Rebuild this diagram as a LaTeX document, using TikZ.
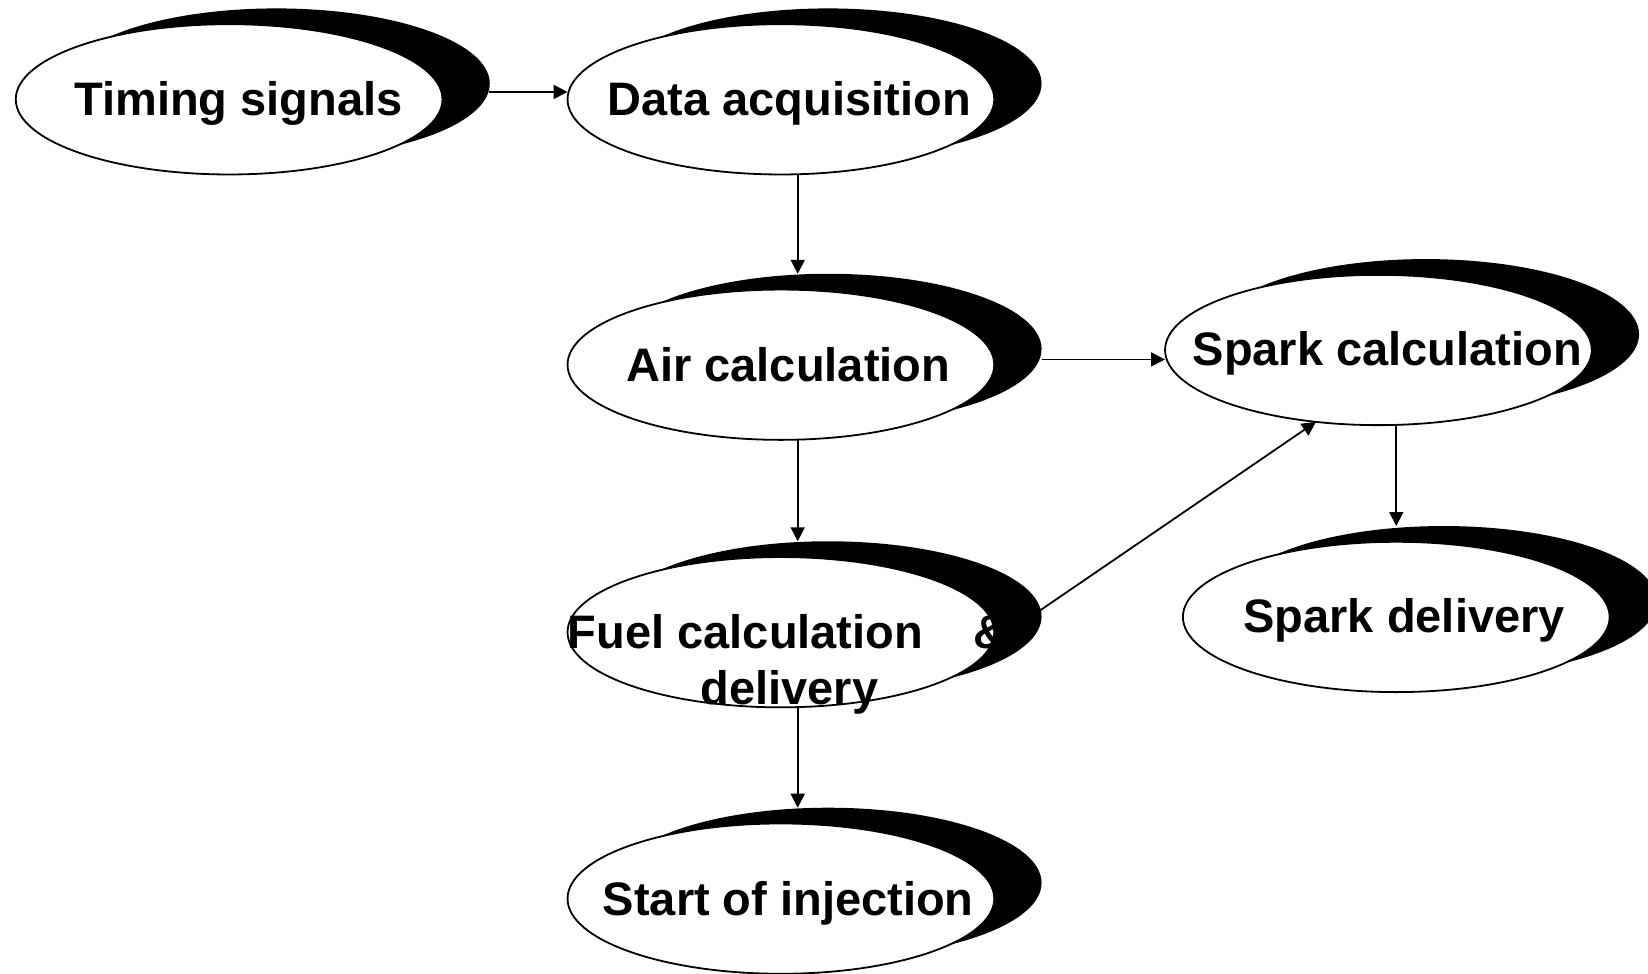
\documentclass[tikz,border=0pt]{standalone}
\usepackage{fontspec}
\setmainfont{Liberation Sans}
\usetikzlibrary{shapes.geometric,arrows.meta,calc}
\newlength\uu
\setlength\uu{0.52551pt}
\begin{document}
\begin{tikzpicture}[x=\uu,y=-\uu,
  whiteell/.style={ellipse,draw=black,fill=white,line width=0.9pt,
    minimum width=406\uu,minimum height=143\uu,inner sep=0pt,outer sep=0pt},
  shadowell/.style={ellipse,fill=black,draw=none,
    minimum width=406\uu,minimum height=143\uu,inner sep=0pt,outer sep=0pt},
  lbl/.style={font=\bfseries\fontsize{23.5pt}{28pt}\selectfont,inner sep=0pt,anchor=base},
  arr/.style={line width=0.9pt,-{Triangle[length=7pt,width=7pt]}}]
\useasboundingbox (0,0) rectangle (1568,926);
% shadows
\node[shadowell] (ts-s) at (263,79.5) {};
\node[shadowell] (da-s) at (788,79.5) {};
\node[shadowell] (ac-s) at (788,332) {};
\node[shadowell] (sc-s) at (1356.5,318) {};
\node[shadowell] (fu-s) at (788,586.5) {};
\node[shadowell] (sd-s) at (1373.5,572) {};
\node[shadowell] (si-s) at (788,840) {};
% white ellipses
\node[whiteell] (ts) at (218,94.5) {};
\node[whiteell] (da) at (743,94.5) {};
\node[whiteell] (ac) at (743,347) {};
\node[whiteell] (sc) at (1311.5,333) {};
\node[whiteell] (fu) at (743,601.5) {};
\node[whiteell] (sd) at (1328.5,587) {};
\node[whiteell] (si) at (743,855) {};
% labels
\node[lbl] (ts-t) at (227,110) {Timing signals};
\node[lbl] (da-t) at (751,110) {Data acquisition};
\node[lbl] (ac-t) at (750,363) {Air calculation};
\node[lbl] (sc-t) at (1320,348) {Spark calculation};
\node[lbl] (sd-t) at (1336,602) {Spark delivery};
\node[lbl] (si-t) at (750,871) {Start of injection};
\node[lbl,anchor=base west] (fu-t1) at (540,617) {Fuel calculation\hspace{48\uu}\&};
\node[lbl] (fu-t2) at (751,670) {delivery};
% connectors
\coordinate (p1) at ($(ts-s.east)+(-1,8)$);
\draw[arr] (p1) -- (p1 -| da.west);
\coordinate (p3) at ($(ac-s.east)+(0,10)$);
\draw[arr] (p3) -- (p3 -| sc.west);
\coordinate (v1) at ($(da.south)+(16,0)$);
\draw[arr] (v1) -- (v1 |- ac-s.north);
\coordinate (v2) at ($(ac.south)+(16,0)$);
\draw[arr] (v2) -- (v2 |- fu-s.north);
\coordinate (v3) at ($(fu.south)+(16,0)$);
\draw[arr] (v3) -- (v3 |- si-s.north);
\coordinate (v4) at ($(sc.south)+(17,0)$);
\draw[arr] (v4) -- (v4 |- sd-s.north);
\coordinate (d1) at ($(fu-s.east)+(-1,-6)$);
\draw[arr] (d1) -- (sc.229);
\end{tikzpicture}
\end{document}
